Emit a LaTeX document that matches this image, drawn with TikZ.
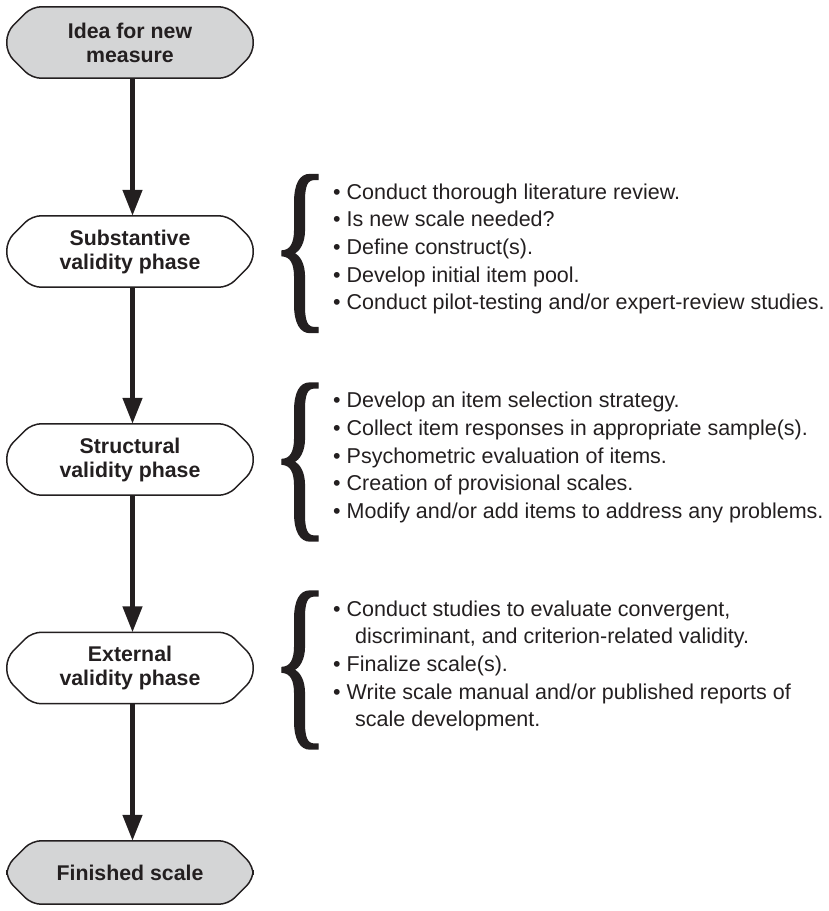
\documentclass[tikz,border=0pt]{standalone}
\usepackage{graphicx}
\usepackage{fontspec}
\setmainfont{Liberation Sans}
\newfontfamily\braceserif[FakeBold=1]{Liberation Serif}
\usetikzlibrary{arrows.meta,backgrounds}
\definecolor{boxgray}{RGB}{212,213,214}
\definecolor{ink}{RGB}{35,31,32}
\tikzset{
  phase/.style={rectangle, minimum width=246pt, minimum height=71pt,
    inner sep=0pt, align=center, text=ink,
    font=\fontsize{21.3}{24}\selectfont\bfseries},
  outline/.style={draw=ink, line width=1.5pt, rounded corners=9pt},
  flow/.style={draw=ink, line width=4.5pt, -{Triangle[width=19pt,length=26pt]}},
  items/.style={anchor=west, align=left, inner sep=0pt, text=ink,
    font=\fontsize{21.5}{27.7}\selectfont},
  bracenode/.style={inner sep=0pt, text=ink}
}
\newcommand{\bigbrace}{\resizebox{58pt}{132pt}{\braceserif\{}}
\newcommand{\phaseoutline}[2]{%
  \path[outline, fill=#2]
    ([xshift=25pt]#1.north west) -- ([xshift=-25pt]#1.north east)
    -- ([yshift=-25pt]#1.north east) -- ([yshift=25pt]#1.south east)
    -- ([xshift=-25pt]#1.south east) -- ([xshift=25pt]#1.south west)
    -- ([yshift=25pt]#1.south west) -- ([yshift=-25pt]#1.north west) -- cycle;}
\begin{document}
\begin{tikzpicture}[x=1pt,y=-1pt]
\useasboundingbox (0,0) rectangle (828,911);

\node[phase] (idea) at (130,42.5) {Idea for new\\measure};
\node[phase] (sub) at (130,251.5) {Substantive\\validity phase};
\node[phase] (str) at (130,459.5) {Structural\\validity phase};
\node[phase] (ext) at (130,668) {External\\validity phase};
\node[phase, minimum height=63pt] (fin) at (130,872.5) {Finished scale};

\begin{pgfonlayer}{background}
\phaseoutline{idea}{boxgray}
\phaseoutline{sub}{white}
\phaseoutline{str}{white}
\phaseoutline{ext}{white}
\phaseoutline{fin}{boxgray}
\end{pgfonlayer}

\draw[flow] ([xshift=2.5pt]idea.south) -- ([xshift=2.5pt]sub.north);
\draw[flow] ([xshift=2.5pt]sub.south) -- ([xshift=2.5pt]str.north);
\draw[flow] ([xshift=2.5pt]str.south) -- ([xshift=2.5pt]ext.north);
\draw[flow] ([xshift=2.5pt]ext.south) -- ([xshift=2.5pt]fin.north);

\node[bracenode] (b1) at (300,253.5) {\bigbrace};
\node[bracenode] (b2) at (300,462) {\bigbrace};
\node[bracenode] (b3) at (300,670) {\bigbrace};

\node[items] (l1) at (333,249) {• Conduct thorough literature review.\\
• Is new scale needed?\\
• Define construct(s).\\
• Develop initial item pool.\\
• Conduct pilot-testing and/or expert-review studies.};

\node[items] (l2) at (333,457.5) {• Develop an item selection strategy.\\
• Collect item responses in appropriate sample(s).\\
• Psychometric evaluation of items.\\
• Creation of provisional scales.\\
• Modify and/or add items to address any problems.};

\node[items] (l3) at (333,666) {• Conduct studies to evaluate convergent,\\
\hspace*{22pt}discriminant, and criterion-related validity.\\
• Finalize scale(s).\\
• Write scale manual and/or published reports of\\
\hspace*{22pt}scale development.};
\end{tikzpicture}
\end{document}
